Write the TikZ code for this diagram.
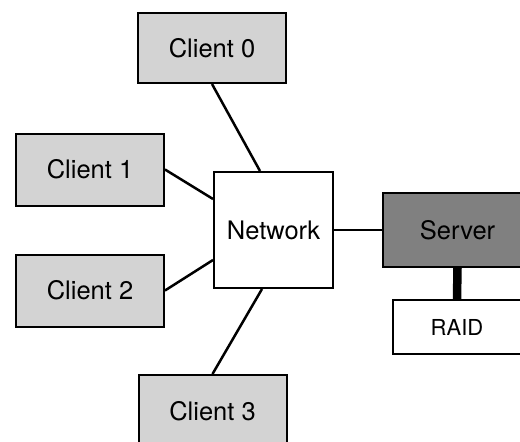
\documentclass[tikz,border=0pt]{standalone}
\usepackage{fontspec}
\setmainfont{TeX Gyre Heros}
\begin{document}
\begin{tikzpicture}[x=1pt,y=-1pt,
  box/.style={draw=black,line width=2pt,inner sep=0pt,font=\fontsize{25.5}{30}\selectfont},
  client/.style={box,fill=lightgraybox,minimum width=148pt,minimum height=72pt},
  link/.style={line width=2.5pt}]
\definecolor{lightgraybox}{RGB}{211,211,211}
\definecolor{servergray}{RGB}{128,128,128}
\useasboundingbox (0,0) rectangle (520,442);
\clip (0,0) rectangle (520,442);
\node[client,minimum height=70pt] (c0) at (212,48) {Client 0};
\node[client] (c1) at (90,169.5) {Client 1};
\node[client] (c2) at (90,290.5) {Client 2};
\node[client] (c3) at (212.5,411) {Client 3};
\node[box,fill=white,minimum width=119pt,minimum height=116pt] (n) at (273.5,230) {Network};
\node[box,fill=servergray,minimum width=149pt,minimum height=74pt] (s) at (457.5,230) {Server};
\node[box,fill=white,minimum width=128pt,minimum height=54pt,font=\fontsize{22}{26}\selectfont] (r) at (457,327) {RAID};
\draw[link] (c0.south) -- ([xshift=-13.5pt]n.north);
\draw[link] (c1.east) -- ([yshift=31pt]n.west);
\draw[link] (c2.east) -- ([yshift=-30pt]n.west);
\draw[link] (c3.north) -- ([xshift=-11.5pt]n.south);
\draw[link] (n.east) -- (s.west);
\draw[line width=8.5pt] (s.south) -- (r.north);
\end{tikzpicture}
\end{document}
